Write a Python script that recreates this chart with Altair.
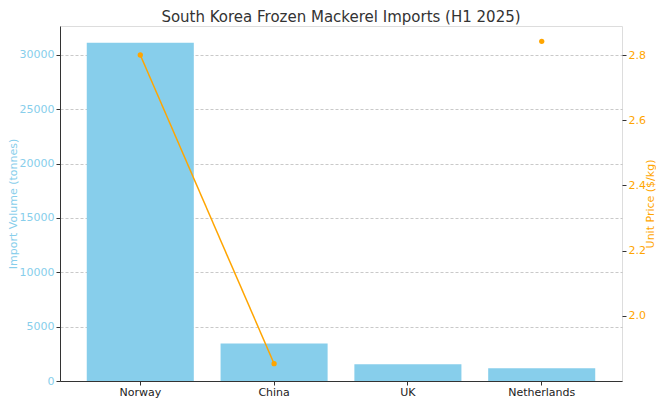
import altair as alt
import pandas as pd

countries = ["Norway", "China", "UK", "Netherlands"]
volumes = [31100, 3450, 1550, 1180]
prices = [2.80, 1.853, None, 2.842]

df = pd.DataFrame({"Country": countries, "Volume": volumes, "Price": prices})

x_enc = alt.X(
    "Country:N",
    sort=countries,
    title=None,
    scale=alt.Scale(paddingInner=0.2, paddingOuter=0.2),
    axis=alt.Axis(
        bandPosition=0.5,
        labelAngle=0,
        labelColor="#222222",
        labelFontSize=11,
        labelPadding=1,
        tickColor="#333333",
        tickSize=4,
        domainColor="#333333",
        gridColor="#cccccc",
        gridDash=[3, 2],
        gridWidth=0.8,
    ),
)

bars = alt.Chart(df).mark_bar(color="#87CEEB").encode(
    x=x_enc,
    y=alt.Y(
        "Volume:Q",
        scale=alt.Scale(domain=[0, 32650], nice=False, zero=True),
        axis=alt.Axis(
            title="Import Volume (tonnes)",
            titleColor="#87CEEB",
            titleFontSize=11,
            titleFontWeight="normal",
            titlePadding=1,
            labelColor="#87CEEB",
            labelFontSize=11,
            labelPadding=2,
            values=[0, 5000, 10000, 15000, 20000, 25000, 30000],
            format="d",
            tickColor="#333333",
            tickSize=4,
            domainColor="#333333",
            gridColor="#bbbbbb",
            gridDash=[3, 2],
            gridWidth=0.8,
        ),
    ),
)

price_y = alt.Y(
    "Price:Q",
    scale=alt.Scale(domain=[1.80, 2.889], nice=False, zero=False),
    axis=alt.Axis(
        orient="right",
        title="Unit Price ($/kg)",
        titleColor="#FFA500",
        titleFontSize=11,
        titleFontWeight="normal",
        titleAngle=270,
        titlePadding=10,
        labelColor="#FFA500",
        labelFontSize=11,
        labelPadding=2,
        values=[2.0, 2.2, 2.4, 2.6, 2.8],
        format=".1f",
        tickColor="#333333",
        tickSize=4,
        domain=False,
        gridColor="#bbbbbb",
        gridDash=[3, 2],
        gridWidth=0.8,
    ),
)

line = alt.Chart(df).mark_line(
    color="#FFA500", strokeWidth=1.5, invalid="break-paths-show-domains"
).encode(x=alt.X("Country:N", sort=countries), y=price_y)

points = alt.Chart(df).transform_filter("datum.Price != null").mark_point(
    color="#FFA500", filled=True, size=28, opacity=1
).encode(x=alt.X("Country:N", sort=countries), y=alt.Y("Price:Q"))

chart = (
    alt.layer(bars, alt.layer(line, points))
    .resolve_scale(y="independent")
    .properties(
        width=562,
        height=355,
        autosize=alt.AutoSizeParams(type="none"),
        padding={"left": 52, "top": 18, "right": 34, "bottom": 20},
        title=alt.TitleParams(
            "South Korea Frozen Mackerel Imports (H1 2025)",
            fontSize=15,
            fontWeight="normal",
            color="#333333",
            anchor="middle",
            offset=1,
        ),
    )
    .configure_view(stroke=None)
    .configure(font="DejaVu Sans")
)

chart.save("out.html", embed_options={"renderer": "svg", "actions": False})
